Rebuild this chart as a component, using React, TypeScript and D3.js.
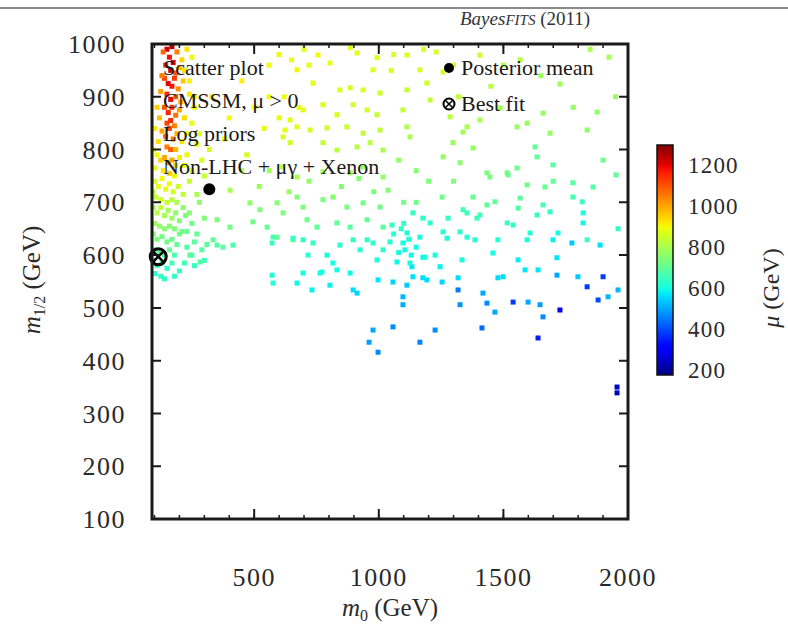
import React, { useEffect, useRef } from "react";
import * as d3 from "d3";

// each point: [m0, m1/2, mu] in GeV
type Pt = [number, number, number];

// dense band at small m0
const stripPoints: Pt[] = [
  [150, 990, 1230], [160, 975, 1180], [170, 995, 1250], [145, 960, 1150], [175, 965, 1200],
  [190, 985, 1050], [210, 970, 950], [135, 985, 1080], [165, 950, 1220], [185, 945, 1100],
  [200, 955, 980], [230, 990, 930], [250, 975, 900],
  [140, 935, 1120], [155, 925, 1200], [170, 920, 1170], [180, 935, 1130], [195, 915, 1030],
  [215, 930, 960], [125, 910, 1000], [150, 905, 1150], [165, 895, 1190], [185, 900, 1080],
  [205, 890, 990], [240, 905, 920], [130, 940, 1050],
  [140, 880, 1100], [155, 870, 1160], [170, 880, 1140], [185, 865, 1060], [200, 875, 1000],
  [220, 860, 940], [120, 860, 970], [150, 850, 1120], [165, 855, 1150], [180, 845, 1050],
  [260, 880, 890], [110, 880, 950],
  [130, 835, 1000], [145, 825, 1080], [160, 840, 1120], [175, 820, 1060], [190, 830, 990],
  [210, 815, 930], [115, 815, 930], [150, 805, 1050], [165, 800, 1090], [185, 800, 980],
  [230, 830, 900], [270, 810, 880], [100, 840, 920],
  [110, 790, 900], [125, 780, 950], [140, 785, 1000], [155, 775, 1030], [170, 780, 1000],
  [185, 770, 950], [200, 785, 920], [220, 770, 880], [100, 765, 880], [135, 760, 930],
  [160, 755, 960], [180, 750, 900], [250, 760, 860], [95, 800, 900],
  [100, 740, 860], [115, 730, 880], [130, 745, 900], [145, 725, 880], [160, 735, 900],
  [175, 720, 860], [195, 730, 850], [215, 715, 830], [240, 740, 840], [105, 710, 840],
  [125, 705, 850], [150, 700, 840], [170, 705, 820], [190, 700, 800], [95, 720, 830],
  [270, 715, 800],
  [95, 690, 800], [110, 680, 810], [125, 690, 830], [140, 675, 800], [155, 685, 790],
  [170, 670, 770], [185, 680, 760], [200, 665, 750], [225, 675, 740], [100, 660, 780],
  [120, 655, 770], [140, 650, 750], [160, 655, 760], [180, 650, 740], [210, 645, 720],
  [250, 660, 720],
  [95, 640, 740], [110, 630, 740], [130, 635, 730], [150, 625, 720], [170, 630, 710],
  [190, 620, 700], [100, 610, 700], [120, 605, 690], [140, 600, 680], [160, 610, 700],
  [180, 600, 670], [230, 615, 680], [260, 625, 690], [200, 640, 720],
  [95, 590, 670], [110, 580, 650], [130, 585, 650], [150, 575, 640], [170, 585, 660],
  [200, 570, 640], [100, 565, 630], [125, 560, 640], [260, 580, 640], [300, 590, 650],
  [215, 690, 760], [240, 680, 750], [280, 700, 760], [300, 670, 740], [230, 645, 710],
  [270, 640, 700], [310, 620, 690], [250, 600, 680], [290, 610, 690], [220, 585, 660],
  [180, 560, 640], [140, 555, 630],
  [220, 950, 930], [240, 930, 910], [260, 900, 900], [250, 850, 890], [280, 830, 880],
  [290, 780, 860], [230, 790, 880], [300, 750, 840], [320, 800, 860],
];

// sparse yellow region, high m1/2
const upperPoints: Pt[] = [
  [756, 979, 900], [804, 964, 890], [885, 993, 880], [913, 983, 880], [993, 974, 870],
  [977, 951, 870], [672, 951, 900], [736, 926, 880], [844, 913, 870], [885, 917, 860],
  [937, 913, 860], [1005, 907, 850], [776, 885, 870], [696, 875, 880], [832, 866, 860],
  [897, 885, 850], [953, 875, 850], [993, 866, 840], [644, 856, 880], [672, 843, 870],
  [624, 837, 880], [724, 837, 860], [792, 841, 850], [872, 843, 840], [937, 831, 830],
  [1005, 837, 830], [616, 824, 860], [644, 813, 850], [776, 813, 830], [832, 799, 820],
  [913, 805, 810], [965, 813, 820], [1017, 799, 800],
  [1113, 979, 870], [1165, 951, 860], [1193, 926, 850], [1258, 947, 860], [1113, 913, 840],
  [1097, 875, 830], [1206, 894, 830], [1286, 862, 820], [1113, 843, 810], [1125, 824, 800],
  [1338, 833, 790], [1298, 813, 780], [1406, 856, 800], [1354, 843, 800], [1487, 879, 790],
  [1555, 843, 780], [1595, 850, 780], [1659, 869, 770], [1687, 831, 770], [1836, 837, 760],
  [1876, 871, 760], [1406, 979, 850], [1567, 970, 820], [1848, 990, 800], [1924, 975, 790],
  [1727, 924, 790], [1180, 990, 870], [1230, 985, 860],
  [330, 900, 920], [400, 860, 900], [450, 930, 910], [500, 880, 890], [380, 820, 880],
  [470, 790, 860], [540, 840, 880], [560, 960, 900],
  [600, 980, 900], [650, 970, 890], [700, 990, 880], [620, 900, 890], [680, 880, 880],
  [720, 960, 880], [560, 900, 890], [600, 860, 880], [1050, 950, 860], [1060, 980, 860],
  [1300, 960, 850], [1320, 900, 830], [1450, 920, 820], [1500, 960, 810], [1650, 940, 790],
  [1780, 880, 770], [1950, 900, 770],
];

// green band
const greenPoints: Pt[] = [
  [612, 767, 820], [672, 748, 800], [776, 758, 790], [885, 756, 780], [937, 767, 790],
  [1017, 748, 770], [403, 723, 800], [483, 699, 760], [523, 686, 740], [592, 699, 750],
  [616, 680, 740], [672, 710, 750], [696, 691, 740], [776, 705, 740], [816, 710, 750],
  [872, 691, 730], [937, 699, 730], [1005, 691, 720], [351, 667, 740], [403, 653, 720],
  [495, 663, 720], [552, 653, 710], [592, 634, 700], [656, 629, 690], [712, 667, 720],
  [752, 653, 700], [832, 661, 700], [885, 653, 690], [953, 667, 700], [1017, 653, 690],
  [1258, 786, 770], [1326, 775, 760], [1378, 803, 770], [1434, 756, 740], [1515, 756, 730],
  [1627, 805, 700], [1635, 786, 700], [1699, 771, 690], [1952, 752, 700], [1779, 737, 690],
  [1860, 729, 680], [1555, 765, 720], [1446, 748, 730], [1519, 752, 720], [1595, 733, 720],
  [1667, 729, 710], [1037, 723, 750], [1254, 710, 720], [1378, 710, 710], [1466, 701, 700],
  [1434, 695, 700], [1567, 708, 690], [1559, 689, 680], [1659, 695, 670], [1816, 701, 650],
  [1779, 710, 660], [1080, 780, 770], [1150, 760, 750], [1200, 740, 740], [1100, 700, 720],
  [450, 760, 800], [520, 730, 780], [560, 760, 790], [640, 720, 770], [720, 740, 770],
  [850, 730, 750], [920, 745, 750], [980, 720, 740], [1150, 700, 720], [1300, 740, 740],
  [1700, 740, 700], [1900, 780, 720], [1960, 650, 640],
];

// cyan region, mid m1/2
const cyanPoints: Pt[] = [
  [1137, 680, 640], [1177, 670, 630], [1206, 661, 630], [1338, 686, 660], [1354, 680, 650],
  [1406, 676, 660], [1394, 670, 650], [1278, 670, 640], [1515, 661, 650], [1539, 657, 640],
  [1635, 676, 640], [1687, 682, 640], [1820, 680, 600], [1820, 661, 590], [1053, 657, 640],
  [1113, 642, 610], [1165, 634, 600], [1097, 623, 600], [1105, 610, 590], [1258, 644, 620],
  [1274, 632, 610], [1326, 644, 630], [1354, 634, 620], [1386, 629, 610], [1478, 629, 620],
  [1595, 629, 610], [1607, 642, 620], [1699, 629, 580], [1719, 642, 600], [1775, 623, 540],
  [1836, 629, 650], [1888, 619, 560], [1458, 604, 600], [1177, 596, 590], [1226, 600, 600],
  [1334, 591, 600], [1073, 587, 590], [1133, 578, 570], [1246, 578, 580], [1559, 591, 580],
  [1715, 595, 570], [1587, 572, 570], [1639, 572, 570], [1137, 559, 560], [1177, 557, 560],
  [1254, 549, 550], [1318, 557, 560], [1478, 557, 560], [1499, 559, 560], [1715, 562, 500],
  [1799, 559, 540], [1057, 549, 550], [1113, 543, 540], [1960, 534, 520], [1097, 521, 520],
  [1097, 506, 510], [1599, 511, 500], [1647, 506, 490], [1920, 521, 520],
  [351, 619, 680], [415, 619, 670], [576, 634, 660], [572, 623, 650], [656, 632, 650],
  [696, 629, 640], [736, 623, 640], [716, 600, 620], [792, 600, 610], [844, 619, 620],
  [816, 585, 600], [897, 629, 640], [925, 610, 620], [977, 623, 620], [993, 591, 600],
  [572, 562, 620], [576, 547, 610], [696, 566, 600], [772, 568, 600], [672, 547, 590],
  [732, 534, 580], [804, 543, 580], [885, 566, 590], [897, 534, 560], [913, 528, 550],
  [997, 553, 570], [242, 600, 690], [283, 587, 680], [1125, 585, 600], [1185, 596, 600],
  [1193, 553, 560], [335, 629, 700], [375, 615, 690], [953, 629, 640], [1017, 610, 630],
  [764, 566, 600], [832, 572, 600],
  [1060, 640, 620], [1090, 650, 630], [1120, 630, 610], [1150, 615, 600], [1080, 605, 600],
  [1045, 625, 620], [1130, 600, 590], [1100, 660, 640],
];

// bluish points, low m1/2
const bluePoints: Pt[] = [
  [1900, 559, 380], [1836, 540, 380], [1318, 534, 450], [1326, 506, 480], [1418, 528, 500],
  [1434, 509, 470], [1466, 492, 500], [1539, 511, 380], [1659, 483, 470], [1727, 496, 280],
  [1880, 515, 400], [1057, 464, 470], [1226, 458, 470], [1414, 462, 430], [1639, 443, 350],
  [1165, 435, 460], [997, 416, 470], [961, 435, 490], [977, 458, 500], [1956, 350, 250],
  [1956, 339, 230],
];

const xTicks = [500, 1000, 1500, 2000];
const xMinor = d3.range(100, 2000, 100);
const yTicks = [100, 200, 300, 400, 500, 600, 700, 800, 900, 1000];
const muTicks = [200, 400, 600, 800, 1000, 1200];
const legendLines = ["Scatter plot", "CMSSM, μ > 0", "Log priors", "Non-LHC + μγ + Xenon"];
const posteriorMean = [320, 725];
const bestFit = [115, 597];

const W = 788;
const H = 635;
const FONT = "'Liberation Serif', 'DejaVu Serif', serif";

const Chart = () => {
  const svgRef = useRef<SVGSVGElement | null>(null);

  useEffect(() => {
    const svg = d3.select(svgRef.current);
    svg.selectAll("*").remove();

    const left = 152, right = 628, top = 44, bottom = 519;

    const x = d3.scaleLinear().domain([90, 2000]).range([left, right]);
    const y = d3.scaleLinear().domain([100, 1000]).range([bottom, top]);

    // jet colour map
    const t = d3.scaleLinear().domain([175, 1300]).range([0, 1]).clamp(true);
    const rS = d3.scaleLinear().domain([0, 0.35, 0.66, 0.89, 1]).range([0, 0, 1, 1, 0.5]);
    const gS = d3.scaleLinear().domain([0, 0.125, 0.375, 0.64, 0.91, 1]).range([0, 0, 1, 1, 0, 0]);
    const bS = d3.scaleLinear().domain([0, 0.11, 0.34, 0.65, 1]).range([0.5, 1, 1, 0, 0]);
    const jet = (mu: number) => {
      const v = t(mu);
      return d3.rgb(rS(v) * 255, gS(v) * 255, bS(v) * 255).formatHex();
    };

    svg.append("rect").attr("width", W).attr("height", H).attr("fill", "#fff");

    // grey rule at the very top + title
    svg.append("line").attr("x1", 0).attr("x2", W).attr("y1", 8).attr("y2", 8)
      .attr("stroke", "#8a8a8a").attr("stroke-width", 2);
    const title = svg.append("text").attr("x", 460).attr("y", 25)
      .attr("font-family", FONT).attr("font-size", 19).attr("font-style", "italic").attr("fill", "#333");
    title.append("tspan").text("Bayes");
    title.append("tspan").attr("font-size", 15).text("FITS");
    title.append("tspan").attr("font-style", "normal").text(" (2011)");

    // points
    const all = [...stripPoints, ...upperPoints, ...greenPoints, ...cyanPoints, ...bluePoints];
    const s = 5;
    svg.append("g").selectAll("rect").data(all).enter().append("rect")
      .attr("x", (d) => x(d[0]) - s / 2)
      .attr("y", (d) => y(d[1]) - s / 2)
      .attr("width", s).attr("height", s)
      .attr("fill", (d) => jet(d[2]));

    // markers
    svg.append("circle").attr("cx", x(posteriorMean[0])).attr("cy", y(posteriorMean[1]))
      .attr("r", 6).attr("fill", "#000");
    const bf = svg.append("g").attr("transform", `translate(${x(bestFit[0])},${y(bestFit[1])})`)
      .attr("stroke", "#000").attr("fill", "none");
    bf.append("circle").attr("r", 8).attr("stroke-width", 3);
    bf.append("path").attr("d", "M-5,-5L5,5M5,-5L-5,5").attr("stroke-width", 2.5);

    // frame and ticks
    const ax = svg.append("g").attr("stroke", "#1a1a1a");
    ax.selectAll(".ymaj").data(yTicks).enter().append("path")
      .attr("d", (d) => `M${left},${y(d)}h9M${right},${y(d)}h-9`).attr("stroke-width", 2);
    ax.selectAll(".xmin").data(xMinor).enter().append("path")
      .attr("d", (d) => `M${x(d)},${bottom}v-4M${x(d)},${top}v4`).attr("stroke-width", 1.5);
    ax.selectAll(".xmaj").data(xTicks).enter().append("path")
      .attr("d", (d) => `M${x(d)},${bottom}v-10M${x(d)},${top}v10`).attr("stroke-width", 2);
    ax.append("rect").attr("x", left).attr("y", top).attr("width", right - left)
      .attr("height", bottom - top).attr("fill", "none").attr("stroke-width", 3);

    // tick labels
    const lab = svg.append("g").attr("font-family", FONT).attr("fill", "#2a2a2a");
    lab.selectAll(".yl").data(yTicks).enter().append("text")
      .attr("x", 126).attr("y", (d) => y(d)).attr("dy", "0.35em")
      .attr("text-anchor", "end").attr("font-size", 26).attr("letter-spacing", 1.5)
      .text((d) => d);
    lab.selectAll(".xl").data(xTicks).enter().append("text")
      .attr("x", (d) => x(d)).attr("y", 586)
      .attr("text-anchor", "middle").attr("font-size", 26).attr("letter-spacing", 1.5)
      .text((d) => d);

    // axis titles
    const xt = lab.append("text").attr("x", 390).attr("y", 616).attr("text-anchor", "middle")
      .attr("font-size", 25);
    xt.append("tspan").attr("font-style", "italic").text("m");
    xt.append("tspan").attr("font-size", 16).attr("dy", 5).text("0");
    xt.append("tspan").attr("dy", -5).text(" (GeV)");

    const yt = lab.append("text").attr("transform", "translate(40,280) rotate(-90)")
      .attr("text-anchor", "middle").attr("font-size", 25);
    yt.append("tspan").attr("font-style", "italic").text("m");
    yt.append("tspan").attr("font-size", 16).attr("dy", 5).text("1/2");
    yt.append("tspan").attr("dy", -5).text(" (GeV)");

    // legend text
    const lg = svg.append("g").attr("font-family", FONT).attr("font-size", 22).attr("fill", "#1a1a1a");
    lg.selectAll(".lt").data(legendLines).enter().append("text")
      .attr("x", 163).attr("y", (d, i) => 75 + i * 33).text((d) => d);
    svg.append("circle").attr("cx", 449).attr("cy", 68).attr("r", 5).attr("fill", "#000");
    const lbf = svg.append("g").attr("transform", "translate(449,104)").attr("stroke", "#000").attr("fill", "none");
    lbf.append("circle").attr("r", 5.5).attr("stroke-width", 2);
    lbf.append("path").attr("d", "M-3.5,-3.5L3.5,3.5M3.5,-3.5L-3.5,3.5").attr("stroke-width", 1.5);
    lg.append("text").attr("x", 461).attr("y", 75).text("Posterior mean");
    lg.append("text").attr("x", 461).attr("y", 111).text("Best fit");

    // colour bar
    const cbX = 657, cbW = 16;
    const c = d3.scaleLinear().domain([175, 1300]).range([375, 145]);
    const grad = svg.append("defs").append("linearGradient").attr("id", "jetGrad")
      .attr("x1", 0).attr("x2", 0).attr("y1", 1).attr("y2", 0);
    d3.range(0, 1.0001, 0.02).forEach((f) => {
      grad.append("stop").attr("offset", f).attr("stop-color", jet(175 + f * 1125));
    });
    svg.append("rect").attr("x", cbX).attr("y", c(1300)).attr("width", cbW)
      .attr("height", c(175) - c(1300)).attr("fill", "url(#jetGrad)")
      .attr("stroke", "#111").attr("stroke-width", 1.5);
    lab.selectAll(".cl").data(muTicks).enter().append("text")
      .attr("x", 688).attr("y", (d) => c(d)).attr("dy", "0.35em")
      .attr("font-size", 23).attr("letter-spacing", 1.2).text((d) => d);
    const mt = lab.append("text").attr("transform", "translate(779,288) rotate(-90)")
      .attr("text-anchor", "middle").attr("font-size", 24);
    mt.append("tspan").attr("font-style", "italic").text("μ");
    mt.append("tspan").text(" (GeV)");
  }, []);

  return <svg ref={svgRef} width={W} height={H} style={{ position: "absolute", left: 0, top: 0 }} />;
};

export default function App() {
  return <Chart />;
}
